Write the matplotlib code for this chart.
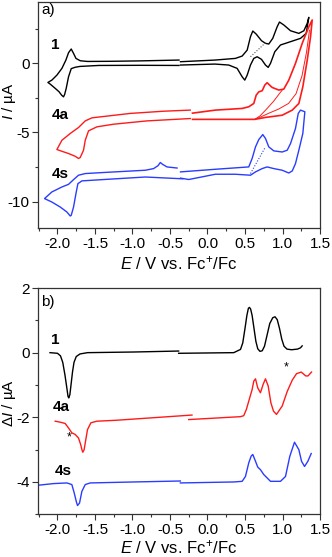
import matplotlib
matplotlib.use('Agg')
import matplotlib.pyplot as plt
from matplotlib.ticker import MultipleLocator, FormatStrFormatter

plt.rcParams['font.family'] = 'Liberation Sans'
plt.rcParams['mathtext.fontset'] = 'custom'
plt.rcParams['mathtext.rm'] = 'Liberation Sans'
plt.rcParams['mathtext.it'] = 'Liberation Sans:italic'
plt.rcParams['axes.unicode_minus'] = False

# ---- panel a: cyclic voltammograms (E in V, I in uA) ----
cv1_left_E = [-0.38, -0.9, -1.45, -1.70, -1.764, -1.817, -1.853, -1.884, -1.905, -1.92, -1.945, -1.98,
              -2.03, -2.097, -2.128, -2.075, -2.008, -1.941, -1.888, -1.853, -1.817, -1.786, -1.754,
              -1.697, -1.60, -1.3, -0.9, -0.38]
cv1_left_I = [-0.15, -0.14, -0.15, -0.22, -0.28, -0.38, -0.97, -1.81, -2.25, -2.42, -2.30, -2.05,
              -1.81, -1.5, -1.38, -1.21, -0.85, -0.36, 0.24, 0.77, 1.04, 0.72, 0.36,
              0.19, 0.14, 0.15, 0.18, 0.24]
cv1_right_E = [-0.36, 0.1, 0.372, 0.462, 0.529, 0.573, 0.604, 0.649, 0.72, 0.773, 0.817, 0.87, 0.929,
               0.96, 1.017, 1.107, 1.218, 1.285, 1.33, 1.351,
               1.316, 1.24, 1.107, 0.973, 0.897, 0.84, 0.809, 0.773, 0.72, 0.662, 0.617, 0.573, 0.529,
               0.497, 0.462, 0.395, 0.283, 0.1, -0.36]
cv1_right_I = [0.12, 0.24, 0.36, 0.53, 0.96, 1.93, 2.34, 2.12, 1.64, 1.45, 1.40, 1.81, 2.65,
               2.99, 2.78, 2.36, 2.17, 2.36, 2.90, 3.33,
               2.17, 1.81, 1.57, 1.33, 0.84, 0.0, -0.29, -0.12, 0.29, 0.48, 0.36, -0.12, -0.85,
               -1.21, -0.97, -0.36, -0.12, -0.05, -0.12]
cv1_dot_E = [0.573, 0.773]
cv1_dot_I = [0.48, 1.49]

cv4a_left_E = [-0.23, -0.806, -1.252, -1.474, -1.586, -1.63, -1.653, -1.697, -1.72,
               -1.764, -1.853, -1.941, -2.008,
               -1.941, -1.83, -1.72, -1.63, -1.541, -1.43, -1.03, -0.584, -0.23]
cv4a_left_I = [-3.99, -4.16, -4.40, -4.59, -4.88, -5.56, -6.28, -6.81, -6.88,
               -6.72, -6.52, -6.36, -6.23,
               -5.56, -5.07, -4.64, -4.16, -3.94, -3.87, -3.62, -3.46, -3.38]
cv4a_right_E = [-0.2, 0.105, 0.462, 0.55, 0.617, 0.649, 0.684, 0.729, 0.764, 0.795, 0.862, 0.951,
                1.017, 1.084, 1.173, 1.263, 1.351, 1.396,
                1.374, 1.33, 1.271, 1.218, 1.13, 0.996, 0.773, 0.63, 0.3, -0.2]
cv4a_right_I = [-3.6, -3.38, -3.26, -3.14, -2.9, -2.3, -2.06, -1.98, -1.57, -1.40, -1.74, -1.93,
                -1.86, -1.21, 0.0, 1.45, 2.65, 3.14,
                1.93, 0.24, -1.69, -2.9, -3.38, -3.75, -3.91, -4.05, -4.05, -4.05]
cv4a_inner_E = [0.996, 0.95, 0.88, 0.78, 0.70, 0.63]
cv4a_inner_I = [-1.93, -2.25, -2.75, -3.35, -3.8, -4.05]
cv4a_mid_E = [1.36, 1.32, 1.26, 1.18, 1.08, 0.95, 0.82, 0.70, 0.63]
cv4a_mid_I = [2.4, 0.8, -0.9, -2.2, -2.9, -3.3, -3.6, -3.9, -4.05]

cv4s_left_E = [-0.33, -0.829, -1.407, -1.674, -1.728, -1.754, -1.786, -1.817, -1.83,
               -1.875, -1.964, -2.075, -2.173,
               -2.075, -1.941, -1.853, -1.786, -1.72, -1.63, -1.407, -0.829, -0.718, -0.66,
               -0.629, -0.6, -0.54, -0.406]
cv4s_left_I = [-8.35, -8.22, -8.41, -8.5, -8.7, -9.42, -10.39, -10.99, -11.04,
               -10.75, -10.39, -10.03, -9.78,
               -9.3, -8.94, -8.75, -8.41, -8.09, -7.97, -7.9, -7.73, -7.61, -7.4,
               -7.17, -7.3, -7.49, -7.57]
cv4s_right_E = [-0.36, 0.105, 0.55, 0.595, 0.64, 0.684, 0.737, 0.773, 0.817, 0.884, 0.996, 1.063,
                1.107, 1.173, 1.21, 1.24, 1.298,
                1.271, 1.218, 1.173, 1.13, 1.084, 0.996, 0.884, 0.795, 0.729, 0.64, 0.573, 0.372,
                0.105, -0.25, -0.36]
cv4s_right_I = [-7.85, -7.66, -7.49, -6.88, -6.04, -5.51, -5.15, -5.43, -6.04, -6.33, -6.41, -6.28,
                -5.8, -4.71, -3.62, -3.38, -3.5,
                -5.07, -6.28, -7.25, -7.78, -7.93, -7.73, -7.61, -7.49, -7.61, -7.85, -8.09, -8.02,
                -8.02, -8.4, -8.3]
cv4s_dot_E = [0.573, 0.773]
cv4s_dot_I = [-7.97, -6.04]

# ---- panel b: differential pulse voltammograms ----
dpv1_left_E = [-2.1, -2.0, -1.96, -1.93, -1.90, -1.875, -1.86, -1.85, -1.835, -1.82, -1.80, -1.78,
               -1.75, -1.70, -1.6, -0.985, -0.385]
dpv1_left_I = [0.0, -0.02, -0.1, -0.3, -0.7, -1.1, -1.35, -1.40, -1.3, -1.0, -0.6, -0.3,
               -0.12, -0.04, 0.0, 0.02, 0.05]
dpv1_right_E = [-0.385, 0.35, 0.44, 0.47, 0.50, 0.525, 0.545, 0.559, 0.575, 0.595, 0.62, 0.645,
                0.67, 0.70, 0.73, 0.76, 0.79, 0.83, 0.87, 0.90, 0.93, 0.96, 0.99, 1.02, 1.06, 1.12,
                1.2, 1.24, 1.262]
dpv1_right_I = [-0.02, 0.0, 0.10, 0.3, 0.75, 1.15, 1.37, 1.40, 1.35, 1.15, 0.75, 0.35,
                0.12, 0.04, 0.06, 0.2, 0.5, 0.9, 1.08, 1.11, 1.02, 0.75, 0.42, 0.2, 0.11, 0.09,
                0.11, 0.15, 0.21]

dpv4a_left_E = [-2.031, -1.964, -1.898, -1.853, -1.809, -1.764, -1.72, -1.69, -1.675, -1.662, -1.645,
                -1.63, -1.6, -1.555, -1.475, -1.208, -0.207]
dpv4a_left_I = [-2.12, -2.15, -2.19, -2.33, -2.48, -2.53, -2.64, -2.85, -3.0, -3.08, -3.0,
                -2.79, -2.38, -2.17, -2.12, -2.09, -1.93]
dpv4a_right_E = [-0.25, 0.439, 0.483, 0.519, 0.55, 0.595, 0.617, 0.64, 0.67, 0.706, 0.742, 0.773,
                 0.809, 0.845, 0.88, 0.92, 0.996, 1.063, 1.13, 1.187, 1.25, 1.31, 1.34, 1.387]
dpv4a_right_I = [-2.07, -1.98, -1.95, -1.75, -1.5, -1.14, -0.88, -0.81, -1.09, -1.24, -0.98, -0.81,
                 -1.03, -1.55, -1.81, -1.91, -1.65, -1.2, -0.85, -0.65, -0.6, -0.72, -0.72, -0.6]

dpv4s_left_E = [-2.254, -2.053, -1.875, -1.809, -1.777, -1.75, -1.733, -1.706, -1.675, -1.63, -1.564,
                -0.985, -0.362]
dpv4s_left_I = [-4.10, -4.05, -4.03, -4.08, -4.34, -4.6, -4.73, -4.65, -4.29, -4.08, -4.03,
                -4.0, -3.97]
dpv4s_right_E = [-0.362, 0.35, 0.462, 0.506, 0.55, 0.582, 0.604, 0.64, 0.67, 0.706, 0.75, 0.84,
                 0.973, 1.04, 1.097, 1.16, 1.218, 1.254, 1.294, 1.338, 1.383]
dpv4s_right_I = [-4.03, -4.0, -3.98, -3.83, -3.41, -3.2, -3.15, -3.36, -3.54, -3.62, -3.77, -3.98,
                 -3.98, -3.83, -3.21, -2.77, -3.0, -3.36, -3.52, -3.36, -3.12]

RED = '#ff1a1a'
BLUE = '#2a3cff'
SPINE = '#333333'

fig = plt.figure(figsize=(3.32, 5.57), dpi=100, facecolor='white')
ax_a = fig.add_axes([38 / 332, 1 - 228.3 / 557, (320 - 38) / 332, (228.3 - 2) / 557])
ax_b = fig.add_axes([38 / 332, 1 - 514.3 / 557, (320 - 38) / 332, (514.3 - 288) / 557])

# panel a
ax_a.plot(cv1_left_E, cv1_left_I, color='black', lw=1.0)
ax_a.plot(cv1_right_E, cv1_right_I, color='black', lw=1.0)
ax_a.plot(cv1_dot_E, cv1_dot_I, color='#555555', lw=0.8, ls=(0, (1, 1.5)))
ax_a.plot(cv4a_left_E, cv4a_left_I, color=RED, lw=1.0)
ax_a.plot(cv4a_right_E, cv4a_right_I, color=RED, lw=1.2)
ax_a.plot(cv4a_inner_E, cv4a_inner_I, color=RED, lw=0.7)
ax_a.plot(cv4a_mid_E, cv4a_mid_I, color=RED, lw=0.7)
ax_a.plot(cv4s_left_E, cv4s_left_I, color=BLUE, lw=1.0)
ax_a.plot(cv4s_right_E, cv4s_right_I, color=BLUE, lw=1.0)
ax_a.plot(cv4s_dot_E, cv4s_dot_I, color=BLUE, lw=0.8, ls=(0, (1, 1.5)))

ax_a.set_xlim(-2.26, 1.5)
ax_a.set_ylim(-11.93, 4.44)
ax_a.yaxis.set_major_locator(MultipleLocator(5))
ax_a.yaxis.set_minor_locator(MultipleLocator(2.5))
ax_a.set_ylabel('$I$ / µA', fontsize=11)
ax_a.yaxis.set_label_coords(-0.072, 0.5625)
ax_a.text(-2.22, 3.6, 'a)', fontsize=11)
ax_a.text(-2.08, 1.35, '1', fontsize=11, fontweight='bold', va='center')
ax_a.text(-2.08, -3.75, '4a', fontsize=11, fontweight='bold', va='center')
ax_a.text(-2.08, -7.97, '4s', fontsize=11, fontweight='bold', va='center')

# panel b
ax_b.plot(dpv1_left_E, dpv1_left_I, color='black', lw=1.0)
ax_b.plot(dpv1_right_E, dpv1_right_I, color='black', lw=1.0)
ax_b.plot(dpv4a_left_E, dpv4a_left_I, color=RED, lw=1.0)
ax_b.plot(dpv4a_right_E, dpv4a_right_I, color=RED, lw=1.0)
ax_b.plot(dpv4s_left_E, dpv4s_left_I, color=BLUE, lw=1.0)
ax_b.plot(dpv4s_right_E, dpv4s_right_I, color=BLUE, lw=1.0)

ax_b.set_xlim(-2.26, 1.5)
ax_b.set_ylim(-5, 2)
ax_b.yaxis.set_major_locator(MultipleLocator(2))
ax_b.yaxis.set_minor_locator(MultipleLocator(1))
ax_b.set_ylabel('Δ$I$ / µA', fontsize=11)
ax_b.yaxis.set_label_coords(-0.072, 0.49)
ax_b.text(-2.22, 1.45, 'b)', fontsize=11)
ax_b.text(-2.08, 0.39, '1', fontsize=11, fontweight='bold', va='center')
ax_b.text(-2.06, -1.67, '4a', fontsize=11, fontweight='bold', va='center')
ax_b.text(-2.04, -3.65, '4s', fontsize=11, fontweight='bold', va='center')
ax_b.text(-1.84, -2.62, '*', fontsize=9, ha='center', va='center')
ax_b.text(1.045, -0.45, '*', fontsize=9, ha='center', va='center')

for ax, pad in ((ax_a, 3), (ax_b, 1)):
    ax.xaxis.set_major_locator(MultipleLocator(0.5))
    ax.xaxis.set_minor_locator(MultipleLocator(0.25))
    ax.xaxis.set_major_formatter(FormatStrFormatter('%.1f'))
    ax.set_xlabel('$E$ / V vs. Fc$^{+}$/Fc', fontsize=12, labelpad=pad)
    ax.tick_params(which='both', direction='out', color=SPINE, width=0.8,
                   top=False, right=False, labelsize=11, pad=2)
    ax.tick_params(which='major', length=4)
    ax.tick_params(which='minor', length=2.5)
    for s in ax.spines.values():
        s.set_color(SPINE)
        s.set_linewidth(0.9)

fig.savefig('out.png', dpi=100, facecolor='white')
